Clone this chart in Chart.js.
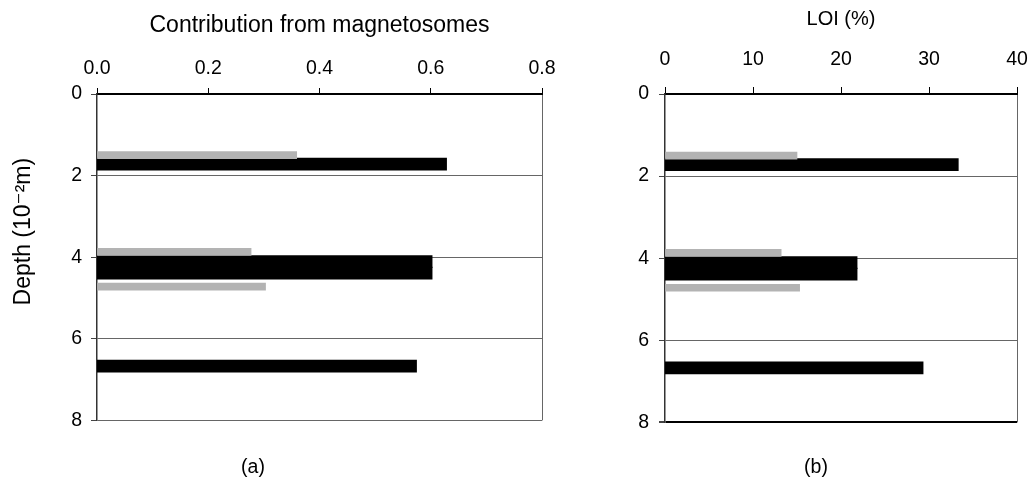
<!DOCTYPE html>
<html>
<head>
<meta charset="utf-8">
<script src="https://cdn.jsdelivr.net/npm/chart.js@4"></script>
<style>
    html, body { margin: 0; padding: 0; background: #fff; overflow: hidden; }
    #wrap { position: relative; width: 1031px; height: 491px; overflow: hidden; }
    canvas { position: absolute; top: 0; }
    #chartA { left: -36px; }
    #chartB { left: 615px; }
</style>
</head>
<body>
<div id="wrap">
    <canvas id="chartA" width="606" height="491"></canvas>
    <canvas id="chartB" width="416" height="491"></canvas>
</div>
<script>
// Depths (10^-2 m) of the sampled intervals
const grayDepths = [1.5, 3.87, 4.72]
const blackDepths = [1.72, 4.11, 4.39, 6.67]

// (a) contribution from magnetosomes
const magGray = [0.359, 0.277, 0.303]
const magBlack = [0.628, 0.602, 0.602, 0.574]

// (b) LOI (%)
const loiGray = [15.0, 13.2, 15.3]
const loiBlack = [33.3, 21.8, 21.8, 29.3]

// Tick labels
const depthTicks = [0, 2, 4, 6, 8]
const magTicks = [0, 0.2, 0.4, 0.6, 0.8]
const loiTicks = [0, 10, 20, 30, 40]

Chart.defaults.font.family = "'Liberation Sans', Arial, 'DejaVu Sans', sans-serif"
Chart.defaults.color = "#000"

function pairs(depths, values) {
    return depths.map((d, i) => ({ x: values[i], y: d }))
}

function makePanel(canvasId, p) {
    const xMax = p.xTicks[p.xTicks.length - 1]
    const yMax = depthTicks[depthTicks.length - 1]
    return new Chart(document.getElementById(canvasId), {
        type: "bar",
        data: {
            datasets: [
                { data: pairs(grayDepths, p.gray), backgroundColor: "#b3b3b3", barThickness: 7, grouped: false },
                { data: pairs(blackDepths, p.black), backgroundColor: "#000", barThickness: 11.5, grouped: false, inflateAmount: 0.6 },
            ],
        },
        options: {
            indexAxis: "y",
            responsive: false,
            animation: false,
            layout: { padding: { right: p.padRight } },
            plugins: {
                legend: { display: false },
                tooltip: { enabled: false },
                title: {
                    display: true,
                    position: "bottom",
                    text: p.label,
                    font: { size: 19.5, weight: "normal" },
                    color: "#000",
                    padding: { top: p.labelTop, bottom: p.labelBottom },
                },
            },
            scales: {
                x: {
                    type: "linear",
                    position: "top",
                    min: 0,
                    max: xMax,
                    afterBuildTicks: (s) => { s.ticks = p.xTicks.map((v) => ({ value: v })) },
                    afterFit: (s) => {
                        s.height = 94
                        // let the layout padding alone decide the plot edges
                        s.paddingLeft = 0
                        s.paddingRight = 0
                    },
                    ticks: { font: { size: 19.5 }, color: "#000", padding: p.xTickPad, maxRotation: 0, autoSkip: false, callback: p.fmt },
                    grid: {
                        color: (c) => (c.tick && c.tick.value === xMax ? "#666" : "transparent"),
                        tickColor: "#000",
                        tickLength: p.tickLen,
                    },
                    border: { color: "#000", width: 2 },
                    title: { display: true, text: p.title, font: { size: p.titleSize }, color: "#000", padding: { top: p.titleTop, bottom: 0 } },
                },
                y: {
                    type: "linear",
                    reverse: true,
                    min: 0,
                    max: yMax,
                    offset: false,
                    afterBuildTicks: (s) => { s.ticks = depthTicks.map((v) => ({ value: v })) },
                    afterFit: (s) => { s.width = p.yAxisWidth },
                    ticks: { font: { size: 19.5 }, color: "#000", padding: p.yTickPad, autoSkip: false },
                    grid: {
                        offset: false,
                        color: (c) => {
                            if (!c.tick || c.tick.value === 0) return "transparent"
                            return c.tick.value === yMax ? p.bottomColor : "#666"
                        },
                        lineWidth: (c) => (c.tick && c.tick.value === yMax ? p.bottomWidth : 1),
                        tickColor: "#444",
                        tickLength: 6,
                    },
                    border: { color: "#333", width: 1.5 },
                    title: p.yTitle
                        ? { display: true, text: p.yTitle, font: { size: 23 }, color: "#000", padding: { top: p.yTitleTop, bottom: 0 } }
                        : { display: false },
                },
            },
        },
    })
}

const chartA = makePanel("chartA", {
    gray: magGray,
    black: magBlack,
    xTicks: magTicks,
    fmt: (v) => Number(v).toFixed(1),
    title: "Contribution from magnetosomes",
    titleSize: 23,
    titleTop: 11.5,
    xTickPad: 7.3,
    tickLen: 6,
    yAxisWidth: 133,
    yTickPad: 9,
    yTitle: "\u00a0\u00a0\u00a0\u00a0\u00a0\u00a0\u00a0\u00a0Depth (10\u207b\u00b2m)",
    yTitleTop: 45.5,
    padRight: 28,
    label: "(a)",
    labelTop: 35.5,
    labelBottom: 11.7,
    bottomColor: "#666",
    bottomWidth: 1,
})

const chartB = makePanel("chartB", {
    gray: loiGray,
    black: loiBlack,
    xTicks: loiTicks,
    fmt: (v) => String(v),
    title: "LOI (%)",
    titleSize: 20,
    titleTop: 7,
    xTickPad: 15.3,
    tickLen: 7,
    yAxisWidth: 50,
    yTickPad: 10,
    yTitle: null,
    padRight: 14,
    label: "(b)",
    labelTop: 33.6,
    labelBottom: 11.6,
    bottomColor: "#000",
    bottomWidth: 2,
})
</script>
</body>
</html>
